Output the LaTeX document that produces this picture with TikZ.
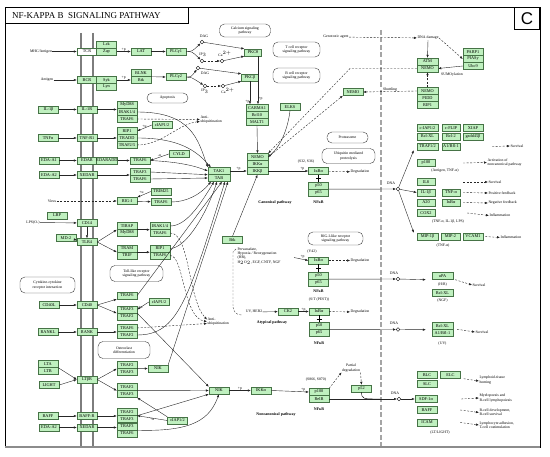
\documentclass[tikz,border=0pt]{standalone}
\usepackage{fontspec}
\setmainfont{Liberation Serif}
\newfontfamily\panelfont{Liberation Sans}
\usetikzlibrary{arrows.meta,calc}

\definecolor{genefill}{RGB}{191,240,191}
\definecolor{geneline}{RGB}{70,115,70}
\definecolor{membrane}{RGB}{125,125,125}
\definecolor{nucmemb}{RGB}{165,165,165}

\tikzset{
  gene/.style={draw=geneline, fill=genefill, line width=0.4pt, minimum width=20pt, minimum height=7pt, inner sep=0pt, font=\fontsize{4.3}{4.3}\selectfont},
  mapbox/.style={draw=black!75, fill=white, line width=0.4pt, rounded corners=5pt, align=center, inner sep=0.5pt, font=\fontsize{3.8}{4.3}\selectfont},
  lbl/.style={inner sep=0.3pt, align=center, font=\fontsize{3.8}{4.3}\selectfont},
  plbl/.style={inner sep=0.3pt, font=\bfseries\fontsize{4}{4.3}\selectfont},
  act/.style={draw=black!85, line width=0.4pt, -{Latex[length=3pt,width=2.4pt]}},
  ind/.style={act, dash pattern=on 2pt off 1.5pt},
  cpd/.style={circle, draw, fill=white, inner sep=0pt, minimum size=3.6pt, line width=0.4pt},
}

\begin{document}
\begin{tikzpicture}[x=1pt, y=-1pt]
    \useasboundingbox (0,0) rectangle (550,457);

    % 枠とタイトル
    \draw[line width=0.8pt] (5,7) rectangle (540,447);
    \draw[black!45, line width=1.6pt] (5,447) -- (540,447);
    \node[draw, line width=0.8pt, anchor=north west, minimum width=183pt, minimum height=16pt] (titlebox) at (5,7) {};
    \node[anchor=west, inner sep=0pt, font=\fontsize{9}{9}\selectfont] (title) at (12,15.5) {NF-KAPPA B\ \ SIGNALING PATHWAY};
    \node[draw, line width=0.8pt, anchor=north east, minimum width=25pt, minimum height=22pt, font=\panelfont\fontsize{17}{17}\selectfont] (panel) at (540,7) {C};

    % 膜
    \draw[membrane, line width=1.5pt] (81,33) -- (81,446);
    \draw[membrane, line width=1.5pt] (93,33) -- (93,446);
    \draw[nucmemb, line width=2pt, dash pattern=on 5pt off 2.5pt] (381,30) -- (381,446);

    % 受容体
    \node[gene, fill=white] (tcr) at (87,51.5) {TCR};
    \node[gene] (bcr) at (87,80) {BCR};
    \node[gene] (il1r) at (87,109.5) {IL-1R};
    \node[gene] (tnfr) at (87,138) {TNF-R1};
    \node[gene] (edar) at (87,160.5) {EDAR};
    \node[gene] (xedar) at (87,175) {XEDAR};
    \node[gene] (cd14) at (87,223) {CD14};
    \node[gene] (tlr4) at (87,242) {TLR4};
    \node[gene] (cd40) at (87,305) {CD40};
    \node[gene] (rank) at (87,332) {RANK};
    \node[gene] (ltbr) at (87,379.5) {LTβR};
    \node[gene] (baffr) at (87,416) {BAFF-R};
    \node[gene] (xedarb) at (87,427.5) {XEDAR};

    % リガンド
    \node[lbl] (mhc) at (41,51.5) {MHC/Antigen};
    \node[lbl] (antigen) at (47,80) {Antigen};
    \node[gene] (il1b) at (48.5,109.5) {IL-1β};
    \node[gene] (tnfa) at (48,138) {TNFα};
    \node[gene] (edaa1) at (49,160.5) {EDA-A1};
    \node[gene] (edaa2) at (49,175) {EDA-A2};
    \node[lbl] (virus) at (52,201) {Virus};
    \node[gene] (lbp) at (57,215.5) {LBP};
    \node[lbl] (lps) at (33,222.5) {LPS(O-)};
    \node[gene] (md2) at (66,238) {MD-2};
    \node[gene] (cd40l) at (49,305) {CD40L};
    \node[gene] (rankl) at (48,332) {RANKL};
    \node[gene] (lta) at (48,364) {LTA};
    \node[gene] (ltb) at (48,371) {LTB};
    \node[gene] (light) at (49,385) {LIGHT};
    \node[gene] (baff) at (48,416) {BAFF};
    \node[gene] (edaa2b) at (49,427.5) {EDA-A2};

    % TCR / BCR
    \node[gene] (lck) at (106.5,44.5) {Lck};
    \node[gene] (zap) at (106.5,51.5) {Zap};
    \node[gene] (lat) at (141,51.5) {LAT};
    \node[gene] (plcg1) at (176,51.5) {PLCγ1};
    \node[gene] (syk) at (106.5,80) {Syk};
    \node[gene] (lyn) at (106.5,87) {Lyn};
    \node[gene] (blnk) at (141,73) {BLNK};
    \node[gene] (btk) at (141,80) {Btk};
    \node[gene] (plcg2) at (176,77) {PLCγ2};
    \node[cpd] (dag1) at (202,42) {};
    \node[cpd] (ip31) at (202,61) {};
    \node[cpd] (ca1) at (222,61) {};
    \node[cpd] (dag2) at (198,68) {};
    \node[cpd] (ip32) at (205,86) {};
    \node[cpd] (ca2) at (223,86) {};
    \node[lbl] (dagl1) at (204,36) {DAG};
    \node[lbl] (ip3l1) at (203,55) {IP$_3$};
    \node[lbl] (cal1) at (225,54) {Ca$^{2+}$};
    \node[lbl] (dagl2) at (205,73.5) {DAG};
    \node[lbl] (ip3l2) at (205,91.5) {IP$_3$};
    \node[lbl] (cal2) at (228,90.5) {Ca$^{2+}$};
    \node[gene, minimum width=17pt] (pkct) at (253,52.5) {PKCθ};
    \node[gene, minimum width=17pt] (pkcb) at (250,77.5) {PKCβ};
    \node[gene, minimum width=22pt] (carma1) at (257,108) {CARMA1};
    \node[gene, minimum width=22pt] (bcl10) at (257,115) {Bcl10};
    \node[gene, minimum width=22pt] (malt1) at (257,122) {MALT1};
    \node[mapbox, minimum width=51pt, minimum height=13pt] (calcium) at (245,30.5) {Calcium signaling\\pathway};
    \node[mapbox, minimum width=47pt, minimum height=15pt] (tcellpw) at (296.5,49.5) {T cell receptor\\signaling pathway};
    \node[mapbox, minimum width=47pt, minimum height=15pt] (bcellpw) at (296.5,75.5) {B cell receptor\\signaling pathway};
    \node[mapbox, minimum width=41pt, minimum height=10pt] (apopt) at (167.5,98) {Apoptosis};

    % IL-1R, TNF-R1, EDAR, RIG-I
    \node[gene] (myd88) at (127,105) {MyD88};
    \node[gene] (irak14a) at (127,112) {IRAK1/4};
    \node[gene] (traf6a) at (127,119) {TRAF6};
    \node[gene] (rip1a) at (127,131) {RIP1};
    \node[gene] (tradd) at (127,138) {TRADD};
    \node[gene] (traf25) at (127,145) {TRAF2/5};
    \node[gene] (ciap1) at (162,125) {cIAP1/2};
    \node[lbl, anchor=west, align=left] (antiub1) at (200,119.5) {Anti-\\ubiquitination};
    \node[gene] (cyld) at (179,154) {CYLD};
    \node[gene] (edaradd) at (107,160.5) {EDARADD};
    \node[gene] (traf6b) at (140,160.5) {TRAF6};
    \node[gene] (traf3b) at (140,172) {TRAF3};
    \node[gene] (traf6c) at (140,179) {TRAF6};
    \node[gene] (rigi) at (127,201) {RIG-I};
    \node[gene] (trim25) at (161,191.5) {TRIM25};
    \node[gene] (traf6d) at (161,202) {TRAF6};

    % TLR4
    \node[gene] (tirap) at (127,226) {TIRAP};
    \node[gene] (myd88b) at (127,233) {MyD88};
    \node[gene] (tram) at (127,248.5) {TRAM};
    \node[gene] (trif) at (127,255.5) {TRIF};
    \node[gene] (irak14b) at (160,226) {IRAK1/4};
    \node[gene] (traf6e) at (160,233) {TRAF6};
    \node[gene] (rip1b) at (160,248.5) {RIP1};
    \node[gene] (traf6f) at (160,255.5) {TRAF6};
    \node[mapbox, minimum width=53pt, minimum height=16pt] (tollpw) at (136.5,273.5) {Toll-like receptor\\signaling pathway};
    \node[mapbox, minimum width=55pt, minimum height=16pt] (cytopw) at (47.5,285) {Cytokine-cytokine\\receptor interaction};

    % CD40, RANK, LTβR, BAFF-R, XEDAR
    \node[gene] (traf6g) at (127,295.5) {TRAF6};
    \node[gene] (ciap3) at (159,302) {cIAP1/2};
    \node[gene] (traf3a) at (127,309.5) {TRAF3};
    \node[gene] (traf2a) at (127,316.5) {TRAF2};
    \node[gene] (traf6h) at (127,328) {TRAF6};
    \node[gene] (traf2b) at (127,335) {TRAF2};
    \node[mapbox, minimum width=52pt, minimum height=17pt] (osteo) at (124,350) {Osteoclast\\differentiation};
    \node[lbl, anchor=west, align=left] (antiub2) at (207,321.5) {Anti-\\ubiquitination};
    \node[gene] (traf2c) at (127,365) {TRAF2};
    \node[gene] (traf3c) at (127,372) {TRAF3};
    \node[gene] (nik2) at (158,368.5) {NIK};
    \node[gene] (traf2d) at (127,387) {TRAF2};
    \node[gene] (traf3d) at (127,394) {TRAF3};
    \node[gene] (traf2e) at (127,412) {TRAF2};
    \node[gene] (traf3e) at (127,419) {TRAF3};
    \node[gene] (ciap4) at (177.5,420.5) {cIAP1/2};
    \node[gene] (traf3f) at (127,426.5) {TRAF3};
    \node[gene] (traf6i) at (127,433.5) {TRAF6};

    % TAK1, IKK
    \node[gene, minimum width=22pt] (tak1) at (219,171) {TAK1};
    \node[gene, minimum width=22pt] (tab) at (219,178) {TAB};
    \node[gene, minimum width=21pt] (nemo1) at (257.5,157) {NEMO};
    \node[gene, minimum width=21pt] (ikka1) at (257.5,164) {IKKα};
    \node[gene, minimum width=21pt] (ikkb1) at (257.5,171) {IKKβ};
    \node[gene] (elks) at (290,107) {ELKS};
    \node[gene] (nemo2) at (353,92) {NEMO};
    \node[gene] (btkb) at (232.5,240) {Btk};
    \node[plbl] (canon) at (275,203) {Canonical pathway};
    \node[lbl, anchor=north west, align=left] (perv) at (237,247) {Pervanadate,\\Hypoxia / Reoxygenation\\(HR),\\H$_2$O$_2$, EGF, CNTF, NGF};
    \coordinate (hr) at (294,257.5);

    % 核の手前
    \node[lbl] (s3236) at (306,162) {(S32, S36)};
    \node[gene] (ikba1) at (318.5,171) {IκBα};
    \node[gene] (p50a) at (318.5,185.5) {p50};
    \node[gene] (p65a) at (318.5,192.5) {p65};
    \node[plbl] (nfkb1) at (318.5,202.5) {NFκB};
    \node[lbl] (deg1) at (360,172) {Degradation};
    \node[mapbox, minimum width=41pt, minimum height=11pt] (proteas) at (347.5,137.5) {Proteasome};
    \node[mapbox, minimum width=53pt, minimum height=15pt] (ubiq) at (348.5,156) {Ubiquitin mediated\\proteolysis};
    \node[mapbox, minimum width=55pt, minimum height=13pt] (riglike) at (335.5,238.5) {RIG-I-like receptor\\signaling pathway};
    \node[lbl] (y42) at (312,252) {(Y42)};
    \node[gene] (ikba2) at (318.5,260.5) {IκBα};
    \node[gene] (p50b) at (318.5,275.5) {p50};
    \node[gene] (p65b) at (318.5,282.5) {p65};
    \node[plbl] (nfkb2) at (318.5,291) {NFκB};
    \node[lbl] (deg2) at (360,260.5) {Degradation};
    \node[lbl] (pest) at (319,300) {(S/T (PEST))};
    \node[lbl] (uvher2) at (254,312) {UV, HER2};
    \node[gene] (ck2) at (288,311.5) {CK2};
    \node[gene] (ikba3) at (319,311.5) {IκBα};
    \node[gene] (p50c) at (319,326) {p50};
    \node[gene] (p65c) at (319,333) {p65};
    \node[plbl] (nfkb3) at (319,343) {NFκB};
    \node[lbl] (deg3) at (360,312) {Degradation};
    \node[plbl] (atyp) at (272,323) {Atypical pathway};
    \node[gene] (nik1) at (219,390.5) {NIK};
    \node[gene] (ikka2) at (261,390.5) {IKKα};
    \node[lbl] (s866) at (316,380) {(S866, S870)};
    \node[gene] (p100b) at (319,392) {p100};
    \node[gene] (relb) at (319,399) {RelB};
    \node[plbl] (nfkb4) at (319,409) {NFκB};
    \node[lbl] (partdeg) at (351,368) {Partial\\degradation};
    \node[gene] (p52) at (361.5,388.5) {p52};
    \node[plbl] (noncanon) at (276,415) {Noncanonical pathway};

    % 核の中
    \node[lbl] (genotox) at (336,37) {Genotoxic agent};
    \node[lbl] (dnadmg) at (428,38) {DNA damage};
    \node[gene, minimum width=21pt] (atm) at (427.5,61.5) {ATM};
    \node[gene, minimum width=21pt] (nemo3) at (427.5,68.5) {NEMO};
    \node[gene] (parp1) at (473,52) {PARP1};
    \node[gene] (piasy) at (473,59) {PIASy};
    \node[gene] (ubc9) at (473,66) {Ubc9};
    \node[lbl] (sumo) at (452,75) {SUMOylation};
    \node[gene, minimum width=21pt] (nemo4) at (427.5,91) {NEMO};
    \node[gene, minimum width=21pt] (pidd) at (427.5,98) {PIDD};
    \node[gene, minimum width=21pt] (rip1c) at (427.5,105) {RIP1};
    \node[cpd] (dna1) at (398,189) {};
    \node[lbl] (dnal1) at (391,183) {DNA};
    \node[cpd] (dna2) at (398,279) {};
    \node[lbl] (dnal2) at (394,273) {DNA};
    \node[cpd] (dna3) at (398,329.5) {};
    \node[lbl] (dnal3) at (394,323.5) {DNA};
    \node[cpd] (dna4) at (399,399) {};
    \node[lbl] (dnal4) at (395,393) {DNA};

    % 標的遺伝子
    \node[gene, minimum width=21pt] (ciap2) at (427.5,128) {c-IAP1/2};
    \node[gene, minimum width=18pt] (cflip) at (451,128) {c-FLIP};
    \node[gene] (xiap) at (473,128) {XIAP};
    \node[gene, minimum width=21pt] (bclxl1) at (427.5,136.5) {Bcl-XL};
    \node[gene, minimum width=18pt] (bcl2) at (451,136.5) {Bcl-2};
    \node[gene] (gadd) at (473,136.5) {gadd45β};
    \node[gene, minimum width=21pt] (traf12) at (427.5,146.5) {TRAF1/2};
    \node[gene, minimum width=18pt] (a1bfl) at (451,146.5) {A1/Bfl-1};
    \node[gene, minimum width=18pt] (p100a) at (426,163) {p100};
    \node[lbl] (agtnf) at (445,171) {(Antigen, TNF-α)};
    \node[gene, minimum width=18pt] (il8) at (426,182) {IL8};
    \node[gene, minimum width=18pt] (il1bb) at (426,192.5) {IL-1β};
    \node[gene, minimum width=18pt] (tnfab) at (451,192.5) {TNF-α};
    \node[gene, minimum width=18pt] (a20) at (426,202.5) {A20};
    \node[gene, minimum width=18pt] (ikbab) at (451,202.5) {IκBα};
    \node[gene, minimum width=18pt] (cox2) at (426,213) {COX2};
    \node[lbl] (tnfil) at (448,222) {(TNF-α, IL-1β, LPS)};
    \node[gene, minimum width=21pt] (mip1b) at (427.5,236.5) {MIP-1β};
    \node[gene, minimum width=19pt] (mip2) at (450.5,236.5) {MIP-2};
    \node[gene] (vcam1) at (473,236.5) {VCAM1};
    \node[lbl] (tnfonly) at (443,246) {(TNF-α)};
    \node[gene, minimum width=21pt] (upa) at (442.5,276) {uPA};
    \node[lbl] (hrl) at (442.5,285) {(H/R)};
    \node[gene, minimum width=21pt] (bclxl2) at (442.5,293) {Bcl-XL};
    \node[lbl] (ngf) at (442.5,301) {(NGF)};
    \node[gene, minimum width=21pt] (bclxl3) at (442.5,326) {Bcl-XL};
    \node[gene, minimum width=21pt] (a1bfl2) at (442.5,333) {A1/Bfl-1};
    \node[lbl] (uvl) at (442.5,344) {(UV)};
    \node[gene] (blc) at (427,375) {BLC};
    \node[gene] (elc) at (450.5,375) {ELC};
    \node[gene] (slc) at (427,384) {SLC};
    \node[gene, minimum width=22pt] (sdf1) at (426,399) {SDF-1α};
    \node[gene] (baffb) at (427,410) {BAFF};
    \node[gene] (icam) at (427,422.5) {ICAM};
    \node[lbl] (ltlight) at (440,433) {(LT/LIGHT)};

    % 右の説明
    \node[lbl, anchor=west] (surv1) at (510,146) {Survival};
    \node[lbl, anchor=west, align=left] (actnc) at (487,162.5) {Activation of\\noncanonical pathway};
    \node[lbl, anchor=west] (surv2) at (488,182) {Survival};
    \node[lbl, anchor=west] (posfb) at (488,193) {Positive feedback};
    \node[lbl, anchor=west] (negfb) at (488,203) {Negative feedback};
    \node[lbl, anchor=west] (infl1) at (489,215.5) {Inflammation};
    \node[lbl, anchor=west] (infl2) at (500,237.5) {Inflammation};
    \node[lbl, anchor=west] (surv3) at (472,285) {Survival};
    \node[lbl, anchor=west] (surv4) at (475,332) {Survival};
    \node[lbl, anchor=west, align=left] (homing) at (479,380) {Lymphoid-tissue\\homing};
    \node[lbl, anchor=west, align=left] (myelo) at (479,398) {Myelopoesis and\\B-cell lymphopoiesis};
    \node[lbl, anchor=west, align=left] (bdev) at (479,412.5) {B-cell development,\\B-cell survival};
    \node[lbl, anchor=west, align=left] (adhes) at (479,425) {Lymphocyte adhesion,\\T-cell costimulation};

    % 線を引く (TCR, BCR)
    \draw[act] (mhc) -- (tcr);
    \draw[act] (antigen) -- (bcr);
    \draw[act] (zap) -- node[lbl, above] (pz) {+p} (lat);
    \draw[act] (syk.east) -- node[lbl, above] (ps) {+p} (btk.west);
    \draw[act] (lat) -- (plcg1);
    \draw[act] (blnk.south east) -- (plcg2.west);
    \draw[act] (plcg1.east) .. controls (192,51.5) .. (dag1);
    \draw[act] (plcg1.east) .. controls (192,51.5) .. (ip31);
    \draw[ind] (ip31) -- (ca1);
    \draw[act] (dag1) -- (pkct.north west);
    \draw[act] (ca1) -- (pkct.south west);
    \draw[act] (plcg2.east) .. controls (191,77) .. (dag2);
    \draw[act] (plcg2.east) .. controls (191,77) .. (ip32);
    \draw[ind] (ip32) -- (ca2);
    \draw[act] (dag2) -- (pkcb.north west);
    \draw[act] (ca2) -- (pkcb.south west);
    \draw[act] ([xshift=5pt]pkct.south) -- ([xshift=5pt]pkct.south |- carma1.north) node[lbl, pos=0.88, right] (pt) {+p};
    \draw[act] (pkcb.south) -- (pkcb.south |- carma1.north) node[lbl, pos=0.88, left] (pb) {+p};
    \draw[act] (malt1.south) -- (nemo1.north);
    \draw[act] (elks.south) .. controls (288,128) and (281,146) .. (nemo1.east);

    % 線を引く (IL-1R, TNF-R1, EDAR, XEDAR)
    \draw[act] (il1b) -- (il1r);
    \draw[act] (il1r.east) -- (il1r.east -| irak14a.west);
    \draw[act] (tnfa) -- (tnfr);
    \draw[act] (tnfr) -- (tnfr -| tradd.west);
    \draw[act] (irak14a.east) .. controls (192,112) and (198,140) .. (tak1.north west);
    \draw[act] (tradd.east) .. controls (178,138) and (196,150) .. ([xshift=3pt]tak1.north west);
    \draw[ind] (traf6a.east) -- (antiub1.west);
    \draw[ind] (traf25.east) .. controls (162,145) and (178,124) .. ([yshift=-2pt]antiub1.west);
    \draw[act] (ciap1.west) -- node[lbl, above] (pu1) {+u} (rip1a.east);
    \draw[act] (edaa1) -- (edar);
    \draw[act] (edaradd) -- (traf6b);
    \draw[act] (cyld.west) -- node[lbl, above] (mu) {-u} (traf6b.east);
    \draw[act] (traf6b.east) .. controls (180,162) and (195,166) .. (tak1.west);
    \draw[act] (edaa2) -- (xedar);
    \draw[act] (xedar) -- (xedar -| traf3b.west);
    \draw[act] (traf3b.east) -- (tak1.south west);
    \draw[act] (traf6c.east) -- (tab.west);

    % 線を引く (RIG-I, TLR4)
    \draw[ind] (virus) -- (rigi);
    \draw[act] (trim25.west) -- node[lbl, above left] (pu2) {+u} (rigi.north east);
    \draw[act] (rigi) -- (traf6d);
    \draw[act] (traf6d.east) .. controls (186,202) and (200,195) .. ([xshift=-8pt]tab.south);
    \draw[act] (lps) -- (cd14);
    \draw[act] (cd14) -- (tlr4);
    \draw[act] (md2) -- (tlr4);
    \draw[act] (tlr4.east) -- (tirap.south west);
    \draw[act] (tlr4.east) -- (tram.south west);
    \draw[act] (tirap.south east) -- (irak14b.south west);
    \draw[act] (tram.south east) -- (rip1b.south west);
    \draw[act] (irak14b.east) .. controls (186,226) and (200,205) .. ([xshift=-5pt]tab.south);
    \draw[act] (rip1b.east) .. controls (186,248) and (206,215) .. ([xshift=-2pt]tab.south);
    \draw[ind] (traf6e.east) .. controls (190,233) and (188,300) .. ([yshift=2pt]antiub2.west);
    \draw[ind] (traf6f.east) .. controls (184,255.5) and (183,318) .. (antiub2.west);

    % 線を引く (CD40, RANK, LTβR, BAFF-R, XEDAR)
    \draw[act] (cd40l) -- (cd40);
    \draw[act] (cd40.east) -- (traf6g.south west);
    \draw[act] (cd40.east) -- (traf3a.south west);
    \draw[act] (ciap3.west) -- node[lbl, below left] (pu3) {+u} (traf3a.east);
    \draw[act] (traf6g.east) -- ([xshift=3pt]tab.south);
    \draw[act] (traf3a.south east) -- (nik1.north west);
    \draw[act] (rankl) -- (rank);
    \draw[act] (rank) -- (rank -| traf6h.west);
    \draw[ind] (traf6h.east) -- ([yshift=-2pt]antiub2.west);
    \draw[act] (traf2b.east) .. controls (178,335) and (188,300) .. ([xshift=6pt]tab.south);
    \draw[act] (lta.south east) -- (ltbr.west);
    \draw[act] (light.east) -- (ltbr.west);
    \draw[act] (ltbr.east) -- (traf2c.south west);
    \draw[act] (ltbr.east) -- (traf2d.south west);
    \draw[act] (traf2c.south east) -- (nik2.west);
    \draw[act] (nik2.north east) -- ([xshift=9pt]tab.south);
    \draw[act] (traf2d.south east) -- (nik1.west);
    \draw[act] (baff) -- (baffr);
    \draw[act] (baffr) -- (baffr -| traf2e.west);
    \draw[act] (traf2e.south east) -- (nik1.south west);
    \draw[act] (ciap4.west) -- node[lbl, below] (pu4) {+u} (traf2e.south east);
    \draw[act] (ciap4.north west) -- (traf3d.south east);
    \draw[act] (edaa2b) -- (xedarb);
    \draw[act] (xedarb) -- (xedarb -| traf3f.west);
    \draw[act] (traf3f.south east) .. controls (195,432) and (210,418) .. (nik1.south);

    % 線を引く (IKK, NF-κB)
    \draw[act] (tak1.east) -- node[lbl, above] (pt1) {+p} (ikkb1.west);
    \draw[act] (btkb.north) -- (ikkb1.south);
    \draw[act] (ikkb1.east) -- node[lbl, above, pos=0.85] (pk1) {+p} (ikba1.west);
    \draw[ind] (ikba1) -- (deg1);
    \draw (ikba1.south) -- (p50a.north);
    \draw ($(ikba1.south)!0.5!(p50a.north)+(-2.5,0)$) -- ++(5,0);
    \draw[act] (p50a.south east) -- (dna1);
    \draw[act] (dna1) -- ([xshift=-3pt]traf12.south west);
    \draw[act] (dna1) -- (il1bb.west);
    \draw[act] (dna1) -- ([xshift=-3pt]mip1b.north west);
    \draw[black!70, dash pattern=on 2pt off 1.5pt] (236,249) -- (233,252) -- (233,305) .. controls (233,313) and (237,315) .. (242,315);
    \draw[act] (hr) -- node[lbl, above, pos=0.6] (py) {+p} (ikba2.west);
    \draw[ind] (ikba2) -- (deg2);
    \draw (ikba2.south) -- (p50b.north);
    \draw ($(ikba2.south)!0.5!(p50b.north)+(-2.5,0)$) -- ++(5,0);
    \draw[act] (p50b.south east) -- (dna2);
    \draw[act] (dna2) -- ([xshift=-6pt]upa.south west);
    \draw[act] (uvher2) -- (ck2);
    \draw[act] (ck2) -- node[lbl, above] (pc) {+p} (ikba3);
    \draw[ind] (ikba3) -- (deg3);
    \draw (ikba3.south) -- (p50c.north);
    \draw ($(ikba3.south)!0.5!(p50c.north)+(-2.5,0)$) -- ++(5,0);
    \draw[act] (p50c.south east) -- (dna3);
    \draw[act] (dna3) -- ([xshift=-6pt]bclxl3.south west);
    \draw[act] (nik1) -- node[lbl, above] (pn1) {+p} (ikka2);
    \draw[act] (ikka2.east) -- node[lbl, above, pos=0.85] (pn2) {+p} (p100b.west);
    \draw[ind] (p100b.north east) -- (partdeg.south west);
    \draw[ind] (partdeg.south east) -- (p52.north);
    \draw[act] (relb.east) -- (dna4.west);
    \draw (p52.south) .. controls (362,399) .. (380,399);
    \draw[act] (dna4) -- (sdf1);

    % 線を引く (核)
    \draw[ind] (genotox) -- (dnadmg);
    \draw[act] (dnadmg.south) -- (atm.north);
    \draw[ind] (dnadmg.east) -- (piasy.west);
    \draw[act] (ubc9.west) -- (nemo3.east);
    \draw[ind] (nemo4.north) -- (nemo3.south);
    \draw[ind] (nemo4.west) -- node[lbl, above] (shut) {Shuttling} (nemo2.east);
    \draw[ind] (nemo3.west) -- (350,68.5) -- (nemo1.north east);
    \draw[ind] (nemo1.east) -- (nemo2.south west);

    % 線を引く (右の説明)
    \draw[ind] ([xshift=32pt]a1bfl.east) -- (surv1.west);
    \draw[ind] ([xshift=28pt]p100a.east) -- (actnc.west);
    \draw[ind] ([xshift=28pt]il8.east) -- (surv2.west);
    \draw[ind] ([xshift=3pt]tnfab.east) -- (posfb.west);
    \draw[ind] ([xshift=3pt]ikbab.east) -- (negfb.west);
    \draw[ind] ([xshift=32pt]cox2.east) -- (infl1.west);
    \draw[ind] ([xshift=2pt]vcam1.east) -- (infl2.west);
    \draw[ind] ([xshift=2pt]upa.south east) -- (surv3.west);
    \draw[ind] ([xshift=4pt]a1bfl2.north east) -- (surv4.west);
    \draw[ind] ([xshift=3pt]elc.south east) -- ([yshift=-1pt]homing.west);
    \draw[ind] ([xshift=24pt]sdf1.east) -- (myelo.west);
    \draw[ind] ([xshift=23pt]baffb.east) -- (bdev.west);
    \draw[ind] ([xshift=23pt]icam.east) -- (adhes.west);
\end{tikzpicture}
\end{document}
